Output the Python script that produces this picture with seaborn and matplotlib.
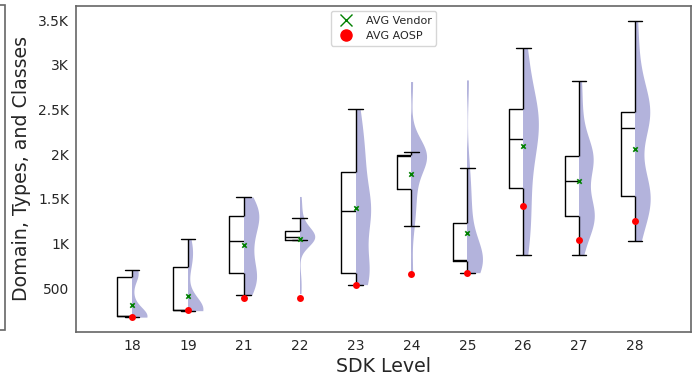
import numpy as np
import pandas as pd
import matplotlib
matplotlib.use("Agg")
import matplotlib.pyplot as plt
import seaborn as sns
from matplotlib.patches import Rectangle
from matplotlib.lines import Line2D
from matplotlib.ticker import FuncFormatter, MultipleLocator

# ---------------- data ----------------
sdk_levels = ["18", "19", "21", "22", "23", "24", "25", "26", "27", "28"]

vendor_18 = [178, 180, 182, 183, 184, 185, 185, 185, 185, 185, 185, 190, 220, 260, 400, 623, 640, 660, 680, 700, 709]
vendor_19 = [250, 252, 254, 255, 256, 257, 257, 257, 257, 257, 257, 270, 290, 320, 420, 739, 800, 880, 920, 980, 1052]
vendor_21 = [426, 480, 540, 590, 630, 668, 700, 780, 880, 960, 1029, 1120, 1190, 1230, 1260, 1312, 1340, 1380, 1420, 1470, 1521]
vendor_22 = [441, 600, 1040, 1040, 1040, 1040, 1045, 1050, 1055, 1060, 1070, 1080, 1090, 1100, 1120, 1140, 1160, 1200, 1286, 1400, 1527]
vendor_23 = [541, 600, 640, 660, 668, 672, 900, 1100, 1250, 1320, 1361, 1380, 1420, 1480, 1600, 1800, 1900, 2000, 2150, 2300, 2510]
vendor_24 = [661, 1197, 1300, 1450, 1550, 1610, 1750, 1900, 1960, 1980, 1985, 1988, 1990, 1992, 1994, 1995, 2000, 2005, 2015, 2027, 2812]
vendor_25 = [675, 720, 760, 780, 795, 802, 806, 810, 812, 814, 815, 850, 900, 950, 1050, 1230, 1350, 1500, 1650, 1845, 2830]
vendor_26 = [877, 1050, 1200, 1350, 1500, 1625, 1800, 1950, 2050, 2120, 2175, 2250, 2350, 2400, 2450, 2503, 2550, 2650, 2800, 3000, 3191]
vendor_27 = [873, 1100, 1200, 1250, 1280, 1312, 1330, 1350, 1400, 1450, 1699, 1850, 1900, 1930, 1960, 1982, 2000, 2050, 2200, 2500, 2819]
vendor_28 = [1033, 1250, 1400, 1460, 1500, 1528, 1550, 1580, 1620, 1700, 2295, 2380, 2420, 2450, 2465, 2477, 2500, 2600, 2800, 3100, 3494]

avg_vendor = [318, 419, 985, 1052, 1393, 1773, 1122, 2086, 1695, 2053]
avg_aosp = [184, 255, 396, 396, 541, 661, 672, 1424, 1036, 1256]

vendor_samples = [vendor_18, vendor_19, vendor_21, vendor_22, vendor_23,
                  vendor_24, vendor_25, vendor_26, vendor_27, vendor_28]

# ---------------- figure ----------------
sns.set_style("white")
plt.rcParams["font.family"] = ["DejaVu Sans"]

fig = plt.figure(figsize=(6.97, 3.75), dpi=100)
ax = fig.add_axes([76 / 697, 1 - 331.7 / 375, (691 - 76) / 697, (331.7 - 5.7) / 375])

rows = []
for lvl, vals in zip(sdk_levels, vendor_samples):
    rows += [(lvl, v) for v in vals]
df = pd.DataFrame(rows, columns=["sdk", "value"])

violin_color = "#b3b3dc"
n_coll = len(ax.collections)
sns.violinplot(data=df, x="sdk", y="value", order=sdk_levels, color=violin_color,
               inner=None, cut=0, density_norm="width", bw_adjust=0.8,
               width=0.54, linewidth=0, saturation=1, ax=ax)

# keep only the right half of each violin
for coll in ax.collections[n_coll:]:
    verts = np.concatenate([p.vertices for p in coll.get_paths()])
    i = np.round(verts[:, 0].mean())
    clip = Rectangle((i, -1e6), 0.5, 2e6, transform=ax.transData)
    coll.set_clip_path(clip)

n_before = len(ax.lines)
box_width = 0.52
sns.boxplot(data=df, x="sdk", y="value", order=sdk_levels, width=box_width,
            showfliers=False, fill=False, color="black", linewidth=1.0, ax=ax)

# keep only the left half of each box (boxes + medians), whiskers/caps intact
for ln in ax.lines[n_before:]:
    x = np.asarray(ln.get_xdata(), float)
    if len(x) >= 5 or (len(x) >= 2 and np.ptp(x) > 0.75 * box_width):
        i = np.round(x.mean())
        clip = Rectangle((i - 0.5, -1e6), 0.5, 2e6, transform=ax.transData)
        ln.set_clip_path(clip)

sns.stripplot(x=sdk_levels, y=avg_aosp, order=sdk_levels, jitter=False,
              marker="o", color="red", size=5, linewidth=0, ax=ax, zorder=6)
sns.stripplot(x=sdk_levels, y=avg_vendor, order=sdk_levels, jitter=False,
              marker="x", color="green", size=3.2, linewidth=1.2, ax=ax, zorder=7)

ax.set_xlim(-1, 10)
ax.set_ylim(15, 3660)
ax.yaxis.set_major_locator(MultipleLocator(500))
ax.yaxis.set_major_formatter(FuncFormatter(
    lambda v, p: (f"{v/1000:g}K" if v >= 1000 else f"{v:g}")))

ax.set_xlabel("SDK Level", fontsize=13.7, labelpad=3)
ax.set_ylabel("Domain, Types, and Classes", fontsize=13.7, labelpad=5)
ax.tick_params(axis="y", length=3, width=1, color="#555555", labelsize=10, pad=2)
ax.tick_params(axis="x", length=0, labelsize=10, pad=5)
for s in ax.spines.values():
    s.set_color("#666666")
    s.set_linewidth(1.2)

handles = [Line2D([], [], marker="x", color="green", linestyle="None", markersize=8, markeredgewidth=1),
           Line2D([], [], marker="o", color="red", linestyle="None", markersize=8)]
ax.legend(handles, ["AVG Vendor", "AVG AOSP"], loc="upper center", fontsize=8,
          frameon=True, edgecolor="#cccccc")

# partially visible frame at the far left edge
fig.add_artist(Rectangle((-0.02, 1 - 330 / 375), 0.02 + 4.5 / 697, (330 - 5) / 375,
                         transform=fig.transFigure, fill=False,
                         edgecolor="#666666", linewidth=1.2))

fig.savefig("out.png", dpi=100)
